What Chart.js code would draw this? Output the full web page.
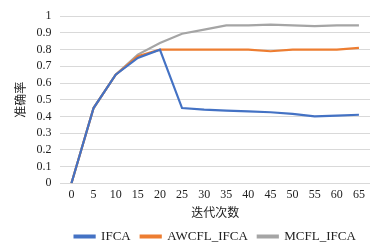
<!DOCTYPE html>
<html>
<head>
<meta charset="utf-8">
<script src="https://cdn.jsdelivr.net/npm/chart.js@4"></script>
<style>
  html, body { margin: 0; padding: 0; background: #fff; }
  #wrap { width: 372px; height: 243px; }
</style>
</head>
<body>
<div id="wrap"><canvas id="grafico"></canvas></div>
<script>
const iteracoes = ['0', '5', '10', '15', '20', '25', '30', '35', '40', '45', '50', '55', '60', '65'];
const ifca = [0, 0.45, 0.65, 0.75, 0.80, 0.45, 0.44, 0.435, 0.43, 0.425, 0.415, 0.40, 0.405, 0.41];
const awcflIfca = [0, 0.45, 0.65, 0.76, 0.80, 0.80, 0.80, 0.80, 0.80, 0.79, 0.80, 0.80, 0.80, 0.81];
const mcflIfca = [0, 0.45, 0.65, 0.77, 0.84, 0.895, 0.92, 0.945, 0.945, 0.95, 0.945, 0.94, 0.945, 0.945];

const serif = '"Liberation Serif", "Times New Roman", serif';
const cjk = '"Noto Sans CJK SC", sans-serif';

const ctx = document.getElementById('grafico').getContext('2d');

function serie(label, data, cor) {
  return {
    label: label,
    data: data,
    borderColor: cor,
    backgroundColor: cor,
    borderWidth: 2.2,
    pointRadius: 0,
    tension: 0
  };
}

new Chart(ctx, {
  type: 'line',
  data: {
    labels: iteracoes,
    datasets: [
      serie('IFCA', ifca, '#4472C4'),
      serie('AWCFL_IFCA', awcflIfca, '#ED7D31'),
      serie('MCFL_IFCA', mcflIfca, '#A5A5A5')
    ]
  },
  options: {
    responsive: true,
    maintainAspectRatio: false,
    animation: false,
    layout: { padding: { left: 13, right: 2, top: 6, bottom: -10 } },
    plugins: {
      legend: {
        position: 'bottom',
        fullSize: false,
        labels: {
          boxWidth: 20,
          boxHeight: 2,
          padding: 10,
          color: '#222',
          font: { family: serif, size: 13 }
        }
      },
      tooltip: { enabled: false }
    },
    scales: {
      x: {
        offset: true,
        grid: { display: false, drawTicks: false },
        border: { display: false },
        ticks: { color: '#222', font: { family: serif, size: 12 }, padding: 4, maxRotation: 0, autoSkip: false },
        title: { display: true, text: '迭代次数', color: '#222', font: { family: cjk, size: 12 }, padding: { top: 0, bottom: 0 } }
      },
      y: {
        min: 0,
        max: 1,
        grid: { color: '#D9D9D9', drawTicks: false },
        border: { display: false },
        ticks: {
          stepSize: 0.1,
          autoSkip: false,
          color: '#222',
          font: { family: serif, size: 12 },
          padding: 9,
          callback: v => String(Number(v.toFixed(1)))
        },
        title: { display: true, text: '准确率', color: '#222', font: { family: cjk, size: 12 }, padding: { top: 0, bottom: 0 } }
      }
    }
  }
});
</script>
</body>
</html>
